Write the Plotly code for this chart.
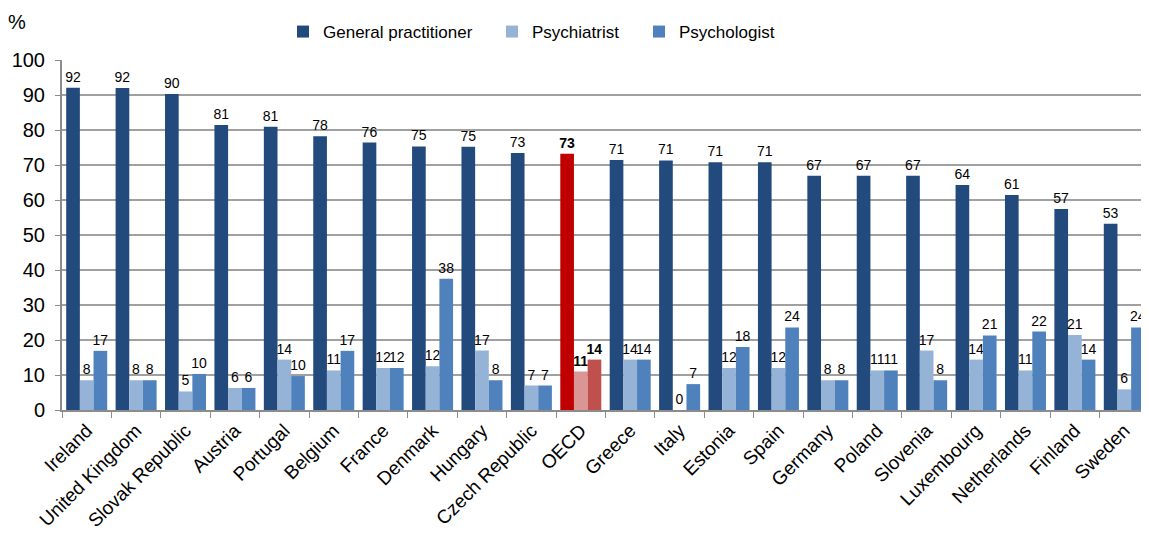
import plotly.graph_objects as go

countries = ["Ireland", "United Kingdom", "Slovak Republic", "Austria", "Portugal", "Belgium",
             "France", "Denmark", "Hungary", "Czech Republic", "OECD", "Greece", "Italy",
             "Estonia", "Spain", "Germany", "Poland", "Slovenia", "Luxembourg", "Netherlands",
             "Finland", "Sweden"]
gp = [92.1, 92.0, 90.3, 81.4, 80.9, 78.2, 76.4, 75.3, 75.2, 73.4, 73.2, 71.4, 71.3,
      70.8, 70.8, 66.9, 66.9, 66.9, 64.3, 61.4, 57.4, 53.2]
psychiatrist = [8.5, 8.5, 5.3, 6.3, 14.4, 11.3, 12.0, 12.5, 17.0, 7.0, 11.0, 14.4, 0.0,
                12.0, 12.0, 8.5, 11.3, 17.0, 14.4, 11.3, 21.4, 5.9]
psychologist = [16.9, 8.5, 10.3, 6.3, 9.7, 16.9, 12.0, 37.5, 8.5, 7.0, 14.4, 14.4, 7.4,
                18.0, 23.6, 8.5, 11.3, 8.5, 21.3, 22.4, 14.4, 23.6]

names = ["General practitioner", "Psychiatrist", "Psychologist"]
base_colors = ["#234A7C", "#95B3D7", "#4F81BD"]
oecd_colors = ["#C00000", "#DA9694", "#C0504D"]
legend_ids = ["legend", "legend2", "legend3"]

W, H = 1141, 532  # page body has an 8px margin
legend_x = [275, 484, 631]

fig = go.Figure()
for name, vals, col, ocol, lg in zip(names, [gp, psychiatrist, psychologist], base_colors,
                                     oecd_colors, legend_ids):
    colors = [ocol if c == "OECD" else col for c in countries]
    texts = [("<b>%d</b>" % round(v)) if c == "OECD" else "%d" % round(v) for c, v in zip(countries, vals)]
    fig.add_trace(go.Bar(
        name=name, x=countries, y=vals, legend=lg,
        marker=dict(color=colors, line=dict(width=0)),
        text=texts, textposition="outside", texttemplate="%{text}",
        textfont=dict(family="Liberation Sans, Arial", size=14, color="black"),
        cliponaxis=False, constraintext="none",
    ))

legend_common = dict(orientation="h", xref="container", yref="container",
                     y=1 - 24 / H, xanchor="left", yanchor="middle",
                     font=dict(size=17), itemwidth=30, bgcolor="rgba(0,0,0,0)")
fig.update_layout(
    width=W, height=H,
    margin=dict(l=54, r=0, t=52, b=130, autoexpand=False),
    plot_bgcolor="white", paper_bgcolor="white",
    barmode="group", bargap=0.17, bargroupgap=0,
    font=dict(family="Liberation Sans, Arial", color="black"),
    legend=dict(x=legend_x[0] / W, **legend_common),
    legend2=dict(x=legend_x[1] / W, **legend_common),
    legend3=dict(x=legend_x[2] / W, **legend_common),
    showlegend=True,
)
fig.update_yaxes(range=[0, 100], dtick=10, showgrid=True, gridcolor="#A0A0A0", gridwidth=1.6,
                 showline=True, linecolor="#8C8C8C", linewidth=2, ticks="outside",
                 ticklen=5, tickcolor="#8C8C8C", tickfont=dict(size=20), zeroline=False,
                 automargin=False, ticklabelstandoff=6)
fig.update_xaxes(range=[-0.5, 21.5], showline=True, linecolor="#8C8C8C", linewidth=2,
                 ticks="outside", tickson="boundaries", ticklen=6, tickcolor="#8C8C8C",
                 tickangle=-45, tickfont=dict(size=19), automargin=False)
fig.add_annotation(text="%", xref="paper", yref="paper", x=(17 - 62) / 1087, y=(410 - 22) / 350,
                   xanchor="center", yanchor="middle", showarrow=False, font=dict(size=20))

fig.write_html("out.html")
